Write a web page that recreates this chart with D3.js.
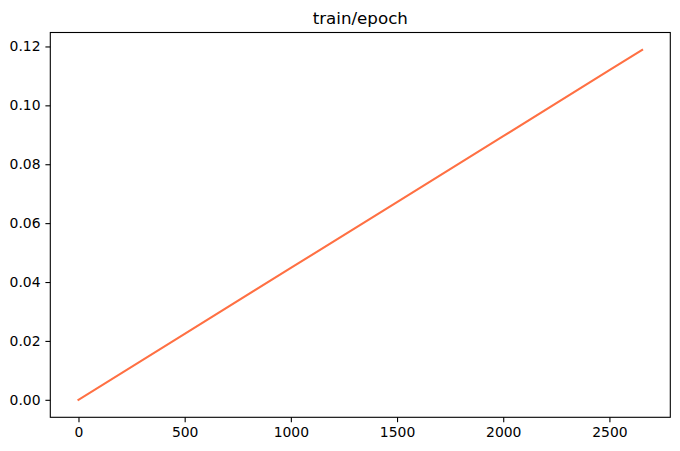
<!DOCTYPE html>
<html><head><meta charset="utf-8">
<script src="https://cdn.jsdelivr.net/npm/d3@7"></script>
<style>body{margin:0;background:#fff}svg{display:block}text{font-family:"DejaVu Sans",sans-serif;fill:#000}</style>
</head><body>
<svg id="c" width="680" height="451"></svg>
<script>
const title = "train/epoch";
const steps = [0, 500, 1000, 1500, 2000, 2500, 2654];
const epochValues = [0, 0.02239, 0.04477, 0.06716, 0.08954, 0.11193, 0.1188];
const xTicks = [0, 500, 1000, 1500, 2000, 2500];
const yTicks = [0, 0.02, 0.04, 0.06, 0.08, 0.10, 0.12];

const svg = d3.select("#c");
const m = {l: 50.3, r: 670.3, t: 32.5, b: 417.3};
const xMax = d3.max(steps), yMax = d3.max(epochValues);
const x = d3.scaleLinear().domain([-0.05*xMax, 1.05*xMax]).range([m.l, m.r]);
const y = d3.scaleLinear().domain([-0.05*yMax, 1.05*yMax]).range([m.b, m.t]);

const line = d3.line().x((d,i)=>x(steps[i])).y(d=>y(d));
svg.append("path").datum(epochValues).attr("d", line)
  .attr("fill","none").attr("stroke","#ff7043").attr("stroke-width",2.1)
  .attr("stroke-linecap","square");

const xa = svg.append("g").attr("transform",`translate(0,${m.b})`)
  .call(d3.axisBottom(x).tickValues(xTicks).tickSize(4.9).tickPadding(4.9).tickFormat(d3.format("d")));
const ya = svg.append("g").attr("transform",`translate(${m.l},0)`)
  .call(d3.axisLeft(y).tickValues(yTicks).tickSize(4.9).tickPadding(4.9).tickFormat(d3.format(".2f")));
[xa, ya].forEach(g=>{
  g.select(".domain").remove();
  g.selectAll(".tick line").attr("stroke","#000").attr("stroke-width",1.1);
  g.selectAll(".tick text").attr("font-size","13.9px").attr("font-family","DejaVu Sans").attr("fill","#000");
});
svg.append("rect").attr("x",m.l).attr("y",m.t).attr("width",m.r-m.l).attr("height",m.b-m.t)
  .attr("fill","none").attr("stroke","#000").attr("stroke-width",1.1);

svg.append("text").attr("x",(m.l+m.r)/2).attr("y",m.t-8.3).attr("text-anchor","middle")
  .attr("font-size","16.7px").text(title);
</script>
</body></html>
